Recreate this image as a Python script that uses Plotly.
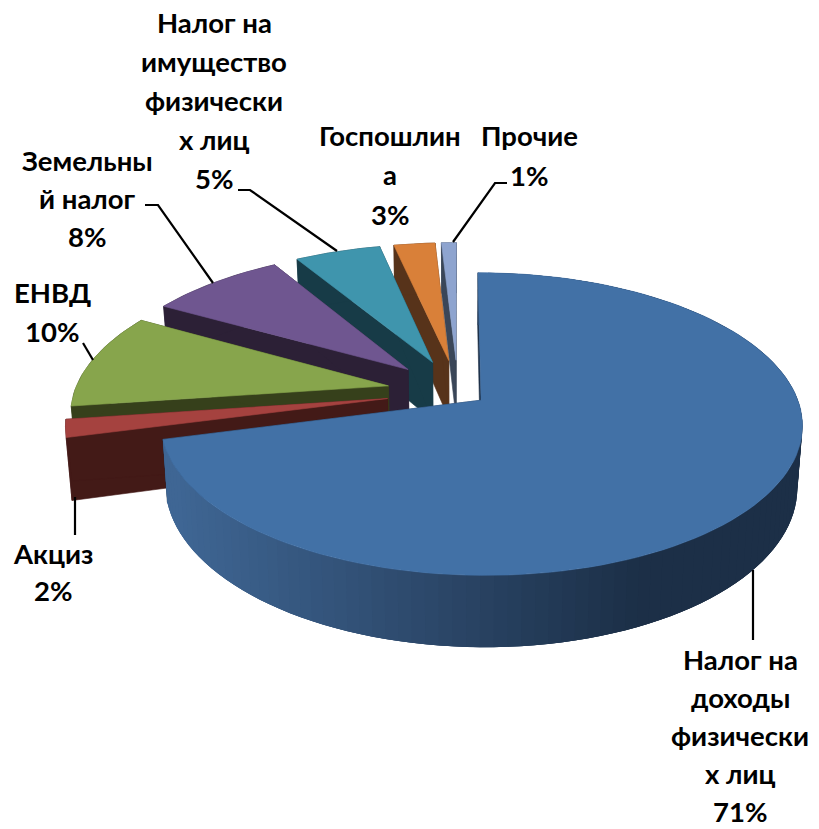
import math
import plotly.graph_objects as go

# ---- data ----
categories = ["Налог на доходы физических лиц", "Акциз", "ЕНВД", "Земельный налог",
              "Налог на имущество физических лиц", "Госпошлина", "Прочие"]
values = [70.9, 1.9, 10.4, 8.2, 5.2, 2.5, 0.9]
pulls = [0.092, 0.227, 0.227, 0.227, 0.227, 0.227, 0.227]
top_colors = ["#4271A6", "#A5423F", "#87A54C", "#6F5690", "#3F95AD", "#D98039", "#8EA4CF"]
side_colors = ["#1C2F47", "#431A17", "#36401B", "#2C2036", "#173B47", "#57331A", "#3A4658"]
label_lines = [
    ["Налог на", "доходы", "физически", "х лиц", "71%"],
    ["Акциз", "2%"],
    ["ЕНВД", "10%"],
    ["Земельны", "й налог", "8%"],
    ["Налог на", "имущество", "физически", "х лиц", "5%"],
    ["Госпошлин", "а", "3%"],
    ["Прочие", "1%"],
]
label_x = [740, 53, 52, 87, 214, 390, 529]
label_y = [659, 553, 292, 160, 22, 135, 135]
label_gap = [38.2, 37, 39, 38, 39, 39.5, 40]

# ---- projection of the tilted pie onto the plot axes ----
CX, CY, RX, RY, PERSP, DEPTH, BOTTOM_SCALE = 458, 392, 314, 145, 0.156, 60, 0.985


def project(wx, wv):
    d = 1 + PERSP * wv
    return CX + RX * wx / d, CY - RY * wv / d, DEPTH / d


def surface(wx, wv):
    x, y, h = project(wx, wv)
    return (x, y), (CX + (x - CX) * BOTTOM_SCALE, y + h)


def hex_mix(a, b, t):
    t = max(0, min(1, t))
    ca = [int(a[i:i + 2], 16) for i in (1, 3, 5)]
    cb = [int(b[i:i + 2], 16) for i in (1, 3, 5)]
    return "#" + "".join(f"{round(p + (q - p) * t):02X}" for p, q in zip(ca, cb))


def poly(points, color, width=0.6):
    return go.Scatter(x=[p[0] for p in points] + [points[0][0]],
                      y=[p[1] for p in points] + [points[0][1]],
                      mode="lines", fill="toself", fillcolor=color,
                      line=dict(color=color, width=width), hoverinfo="skip", showlegend=False)


total = sum(values)
spans = []
start = 0.0
for v in values:
    end = start + 360 * v / total
    spans.append((start, end))
    start = end

fig = go.Figure()
for i in reversed(range(len(values))):
    a0, a1 = spans[i]
    mid = math.radians((a0 + a1) / 2)
    ax, av = pulls[i] * math.sin(mid), pulls[i] * math.cos(mid)
    n = 120 if i == 0 else 24
    angles = [math.radians(a0 + (a1 - a0) * k / n) for k in range(n + 1)]
    rim = [(ax + math.sin(t), av + math.cos(t)) for t in angles]
    apex_top, apex_bot = surface(ax, av)
    tops = [surface(*p)[0] for p in rim]
    bots = [surface(*p)[1] for p in rim]
    # radial faces
    fig.add_trace(poly([apex_top, tops[0], bots[0], apex_bot], side_colors[i]))
    fig.add_trace(poly([apex_top, tops[-1], bots[-1], apex_bot], side_colors[i]))
    # outer wall; on the large slice the shading runs in overlapping bands so no seams show
    if i == 0:
        for k in range(n):
            k2 = min(k + 3, n)
            xm = (tops[k][0] + tops[k + 1][0]) / 2
            t = (xm - 175) / (640 - 175)
            col = hex_mix("#3F6694", side_colors[0], t)
            band = tops[k:k2 + 1] + bots[k:k2 + 1][::-1]
            fig.add_trace(poly(band, col, width=0))
    else:
        fig.add_trace(poly(tops + bots[::-1], side_colors[i]))
    # top face
    fig.add_trace(poly([apex_top] + tops, top_colors[i]))

leaders = [
    [(753, 570), (753, 640)],
    [(75, 497), (75, 535)],
    [(83, 343), (93, 360)],
    [(145, 205), (158, 205), (213, 283)],
    [(238, 190), (250, 190), (337, 251)],
    [(507, 183), (495, 183), (453, 242)],
]
for seg in leaders:
    fig.add_trace(go.Scatter(x=[p[0] for p in seg], y=[p[1] for p in seg], mode="lines",
                             line=dict(color="#000000", width=2.2),
                             hoverinfo="skip", showlegend=False))

annotations = []
for lines, lx, ly, gap in zip(label_lines, label_x, label_y, label_gap):
    for j, text in enumerate(lines):
        annotations.append(dict(x=lx, y=ly + j * gap, text=text, showarrow=False,
                                xanchor="center", yanchor="middle",
                                font=dict(family="Lato, 'Open Sans', sans-serif", size=27.5,
                                          color="#000000", weight="bold")))

fig.update_layout(
    width=819, height=829, margin=dict(l=0, r=0, t=0, b=0),
    paper_bgcolor="#FFFFFF", plot_bgcolor="#FFFFFF", showlegend=False,
    xaxis=dict(range=[0, 819], visible=False, fixedrange=True),
    yaxis=dict(range=[829, 0], visible=False, fixedrange=True),
    annotations=annotations,
)
fig.write_html("out.html", config={"displayModeBar": False},
               post_script="document.body.style.margin='0';document.documentElement.style.overflow='hidden';")
